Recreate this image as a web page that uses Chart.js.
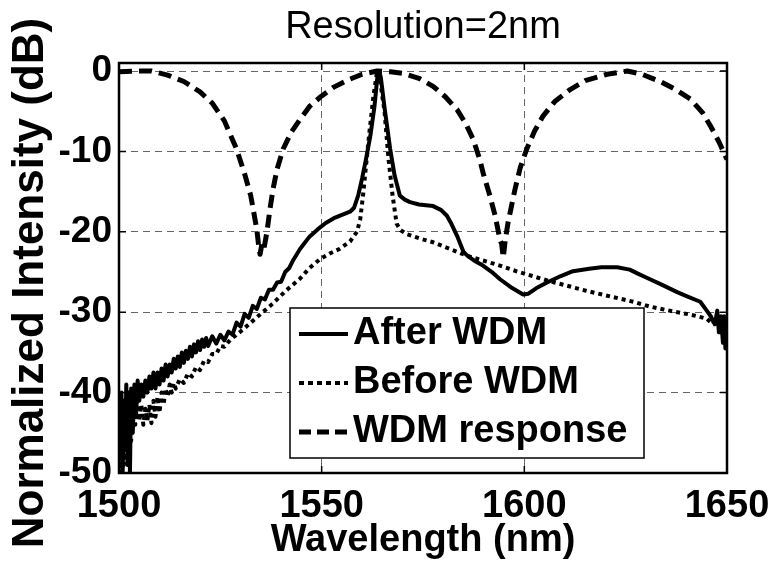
<!DOCTYPE html>
<html>
<head>
<meta charset="utf-8">
<title>Resolution=2nm</title>
<script src="https://cdn.jsdelivr.net/npm/chart.js@4.4.1/dist/chart.umd.min.js"></script>
<style>
  html, body { margin: 0; padding: 0; background: #fff; }
</style>
</head>
<body>
<canvas id="myChart" width="774" height="567"></canvas>
<script>
// Ticks de los ejes
const xTicks = [1500, 1550, 1600, 1650];
const yTicks = [-50, -40, -30, -20, -10, 0];

// After WDM (linea continua)
const afterWl = [1500, 1500.3, 1500.6, 1500.9, 1501.2, 1501.5, 1501.8, 1502.1, 1502.4, 1502.7,
  1503, 1503.4, 1503.8, 1504.2, 1504.6, 1505, 1505.5, 1506, 1506.5, 1507,
  1507.5, 1508, 1508.5, 1509, 1509.5, 1510, 1510.5, 1511, 1511.5, 1512,
  1512.5, 1513, 1513.5, 1514, 1514.5, 1515, 1515.5, 1516, 1516.5, 1517,
  1517.5, 1518, 1518.5, 1519, 1519.5, 1520, 1520.5, 1521, 1521.5, 1522,
  1523, 1524, 1525, 1526, 1527, 1528, 1529, 1530, 1531, 1532,
  1533, 1534, 1535, 1536, 1537, 1538, 1539, 1540, 1541, 1542,
  1543, 1544.7, 1547, 1549, 1551, 1553, 1555, 1557, 1558, 1559,
  1560, 1561, 1562, 1563, 1563.8, 1564.2, 1564.6, 1565.5, 1566.9, 1568,
  1569.3, 1570.5, 1571.8, 1574, 1577.5, 1579.5, 1580.9, 1582, 1583.4, 1585,
  1586, 1588, 1589.8, 1592, 1594, 1597, 1599.7, 1601, 1603, 1605.6,
  1609, 1612, 1616, 1619, 1622.9, 1626, 1628, 1631, 1634, 1637.7,
  1640, 1643.4, 1645, 1646, 1647, 1647.6, 1648, 1648.5, 1649, 1649.3,
  1649.6, 1650];
const afterDb = [-42, -48, -40, -50, -41, -47, -39, -49, -40, -50,
  -39.5, -45, -39, -43, -38.5, -41, -39, -40.5, -38.5, -40,
  -38, -39.5, -37.5, -39.5, -37.5, -39, -37, -38.5, -36.5, -38,
  -36.5, -37.5, -35.8, -37, -35.5, -36.8, -35, -36.3, -34.8, -35.8,
  -34.3, -35.5, -34, -35, -33.6, -34.7, -33.4, -34.3, -33.2, -34.2,
  -33, -33.9, -32.8, -33.5, -32.4, -32.8, -31.3, -31.8, -30.2, -30.7,
  -29.2, -29.6, -28.2, -28.4, -27.2, -27.2, -26.3, -26.2, -25, -24.5,
  -23.5, -22.1, -20.6, -19.7, -18.9, -18.3, -17.9, -17.5, -17.0, -15.5,
  -13.3, -10.8, -8.1, -4.5, -0.5, 0, -0.8, -4.5, -9.7, -13,
  -15.5, -16.0, -16.3, -16.6, -16.8, -17.3, -18, -19, -20.5, -22.5,
  -23, -23.7, -24.2, -25, -25.9, -27, -27.8, -27.7, -27.0, -26.3,
  -25.5, -24.9, -24.6, -24.4, -24.4, -24.7, -25.2, -25.9, -26.6, -27.5,
  -28, -28.7, -29.8, -30.5, -31.5, -29.8, -32.5, -30.5, -33.8, -30.5,
  -34.5, -31];

// Before WDM (linea punteada)
const beforeWl = [1500, 1500.4, 1500.8, 1501.2, 1501.6, 1502, 1502.5, 1503, 1503.5, 1504,
  1504.5, 1505, 1505.5, 1506, 1506.5, 1507, 1507.5, 1508, 1508.5, 1509,
  1509.5, 1510, 1510.5, 1511, 1511.5, 1512, 1512.5, 1513, 1513.5, 1514,
  1515, 1516, 1517, 1518, 1519, 1520, 1521, 1522, 1523, 1524,
  1525, 1526, 1527.5, 1530, 1532.5, 1535, 1538, 1541, 1544.7, 1547,
  1549.6, 1552, 1554.5, 1557, 1558.7, 1559.5, 1560.2, 1561, 1561.8, 1562.8,
  1563.7, 1564.5, 1565.5, 1566.5, 1567.5, 1568.5, 1569.5, 1571, 1574, 1577.5,
  1582, 1586, 1590, 1594, 1598, 1602, 1606, 1610.5, 1615, 1620,
  1626.9, 1631, 1636.7, 1641, 1645, 1646.5, 1647.5, 1648.3, 1649, 1649.5,
  1650];
const beforeDb = [-45, -50, -43, -49, -42, -48, -41.5, -46, -41, -44,
  -41, -43.5, -41.5, -44, -42, -43.5, -41.5, -43.8, -41, -43,
  -40.5, -42.5, -40, -41.5, -39.5, -40.5, -39, -40, -38.8, -39.5,
  -38.3, -38.8, -37.6, -38, -36.8, -37.2, -36, -36.2, -35.2, -35.2,
  -34.2, -34.3, -33.4, -32.4, -31.3, -30.2, -28.9, -27.4, -25.8, -24.5,
  -23.4, -22.7, -22.1, -21.2, -20, -18.5, -15.5, -11.5, -7.5, -3,
  0, -1.5, -5, -11, -15.5, -19, -19.8, -20.3, -20.8, -21.3,
  -22.2, -23, -23.6, -24.2, -24.9, -25.5, -26.1, -26.7, -27.3, -27.9,
  -28.7, -29.3, -29.9, -30.3, -30.8, -31.5, -30.5, -32.5, -31, -33,
  -32];

// WDM response (linea discontinua)
const wdmWl = [1500, 1504, 1508, 1512, 1516, 1520, 1523, 1526, 1529, 1531,
  1532.5, 1534, 1534.4, 1534.8, 1535.3, 1535.8, 1536.5, 1537.3, 1538, 1539,
  1540.5, 1542.5, 1544.7, 1547, 1550, 1553, 1557, 1560, 1563.7, 1567,
  1570, 1574, 1577.5, 1580.5, 1583.4, 1585.5, 1587.4, 1589, 1590, 1591.5,
  1592.8, 1594, 1594.4, 1594.8, 1595.3, 1596, 1597.7, 1599, 1600.6, 1602.5,
  1604.6, 1607.5, 1611.3, 1615, 1620.4, 1625.4, 1629, 1633.5, 1637, 1641,
  1644, 1646, 1648, 1650];
const wdmDb = [-0.1, 0, 0, -0.5, -1.3, -2.6, -4.0, -6.2, -9.7, -12.8,
  -15.5, -19.7, -21.5, -22.8, -21.4, -22.0, -20.0, -17.0, -14.7, -12.2,
  -9.7, -7.6, -6.0, -4.4, -3.1, -2.0, -1.0, -0.4, 0, -0.1,
  -0.3, -0.9, -1.9, -3.2, -4.8, -6.5, -8.5, -11, -13, -15.5,
  -18, -21, -21.5, -23.2, -21, -18.8, -14.7, -12, -9.7, -7.5,
  -5.6, -3.8, -2.3, -1.2, -0.4, 0, -0.4, -1.3, -2.2, -3.5,
  -5.2, -6.9, -8.8, -11];

const fuente = '"Liberation Sans", Arial, sans-serif';

// Une longitudes de onda y valores en puntos {x, y}
const toPoints = (wl, db) => wl.map((w, i) => ({ x: w, y: db[i] }));

// Baja un poco el titulo del eje Y (como en la figura original)
const tituloYPlugin = {
  id: 'tituloY',
  beforeDraw(chart) {
    const s = chart.scales.y;
    if (s._tituloMovido) return;
    const original = s.drawTitle;
    s.drawTitle = function () {
      this.ctx.save();
      this.ctx.translate(0, 15);
      original.call(this);
      this.ctx.restore();
    };
    s._tituloMovido = true;
  }
};

// Caja del grafico, marcas hacia adentro y leyenda dentro del area
const cajaPlugin = {
  id: 'caja',
  afterDatasetsDraw(chart) {
    const { ctx, chartArea: a, scales } = chart;
    ctx.save();

    ctx.strokeStyle = '#000';
    ctx.lineWidth = 1.5;
    ctx.setLineDash([]);
    xTicks.forEach((v) => {
      const px = scales.x.getPixelForValue(v);
      ctx.beginPath();
      ctx.moveTo(px, a.bottom); ctx.lineTo(px, a.bottom - 7);
      ctx.moveTo(px, a.top); ctx.lineTo(px, a.top + 7);
      ctx.stroke();
    });
    yTicks.forEach((v) => {
      const py = scales.y.getPixelForValue(v);
      ctx.beginPath();
      ctx.moveTo(a.left, py); ctx.lineTo(a.left + 7, py);
      ctx.moveTo(a.right, py); ctx.lineTo(a.right - 7, py);
      ctx.stroke();
    });

    ctx.lineWidth = 2.5;
    ctx.strokeRect(a.left, a.top, a.right - a.left, a.bottom - a.top);

    // leyenda
    const lx = a.left + 171, ly = a.top + 245, lw = 354, lh = 150;
    ctx.fillStyle = '#fff';
    ctx.fillRect(lx, ly, lw, lh);
    ctx.lineWidth = 1.5;
    ctx.strokeRect(lx, ly, lw, lh);

    ctx.font = 'bold 38px ' + fuente;
    ctx.textBaseline = 'middle';
    ctx.textAlign = 'left';
    chart.data.datasets.forEach((ds, i) => {
      const y = ly + 26 + i * 49;
      ctx.strokeStyle = ds.borderColor;
      ctx.lineWidth = ds.borderWidth;
      ctx.setLineDash(ds.legendDash);
      ctx.beginPath();
      ctx.moveTo(lx + 9, y);
      ctx.lineTo(lx + 58, y);
      ctx.stroke();
      ctx.fillStyle = '#000';
      ctx.fillText(ds.label, lx + 63, y);
    });

    ctx.restore();
  }
};

const ctx = document.getElementById('myChart');

new Chart(ctx, {
  type: 'line',
  data: {
    datasets: [
      { label: 'After WDM', data: toPoints(afterWl, afterDb), borderColor: '#000', borderWidth: 4, borderDash: [], legendDash: [] },
      { label: 'Before WDM', data: toPoints(beforeWl, beforeDb), borderColor: '#000', borderWidth: 4, borderDash: [4, 4], legendDash: [5, 4] },
      { label: 'WDM response', data: toPoints(wdmWl, wdmDb), borderColor: '#000', borderWidth: 5, borderDash: [13, 7], legendDash: [12, 6] }
    ]
  },
  options: {
    responsive: false,
    animation: false,
    events: [],
    elements: {
      point: { radius: 0 },
      line: { tension: 0, fill: false, borderJoinStyle: 'round' }
    },
    layout: { autoPadding: false, padding: { left: 0, right: 47, top: 0, bottom: 0 } },
    plugins: {
      legend: { display: false },
      tooltip: { enabled: false },
      title: {
        display: true,
        fullSize: false,
        text: 'Resolution=2nm',
        color: '#000',
        font: { family: fuente, size: 38, weight: 'normal' },
        padding: { top: 5, bottom: 12.4 }
      }
    },
    scales: {
      x: {
        type: 'linear',
        min: 1500,
        max: 1650,
        afterBuildTicks: (s) => { s.ticks = xTicks.map((v) => ({ value: v })); },
        afterFit: (s) => {
          s.height = 94;
          // el margen derecho lo da layout.padding
          s.paddingLeft = 0;
          s.paddingRight = 0;
        },
        ticks: {
          color: '#000',
          font: { family: fuente, size: 38, weight: 'bold' },
          padding: 11,
          maxRotation: 0,
          callback: (v) => String(v)
        },
        grid: { color: '#666', lineWidth: 1, drawTicks: false },
        border: { display: false, dash: [7, 5] },
        title: {
          display: true,
          text: 'Wavelength (nm)',
          color: '#000',
          font: { family: fuente, size: 38, weight: 'bold' },
          padding: { top: 0, bottom: 4 }
        }
      },
      y: {
        type: 'linear',
        min: -50,
        max: 1,
        afterBuildTicks: (s) => { s.ticks = yTicks.map((v) => ({ value: v })); },
        afterFit: (s) => { s.width = 119; },
        ticks: {
          color: '#000',
          font: { family: fuente, size: 37, weight: 'bold' },
          padding: 7,
          callback: (v) => String(v)
        },
        grid: { color: '#666', lineWidth: 1, drawTicks: false },
        border: { display: false, dash: [7, 5] },
        title: {
          display: true,
          text: 'Normalized Intensity (dB)',
          color: '#000',
          font: { family: fuente, size: 44, weight: 'bold' },
          padding: { top: 4, bottom: 0 }
        }
      }
    }
  },
  plugins: [tituloYPlugin, cajaPlugin]
});
</script>
</body>
</html>
